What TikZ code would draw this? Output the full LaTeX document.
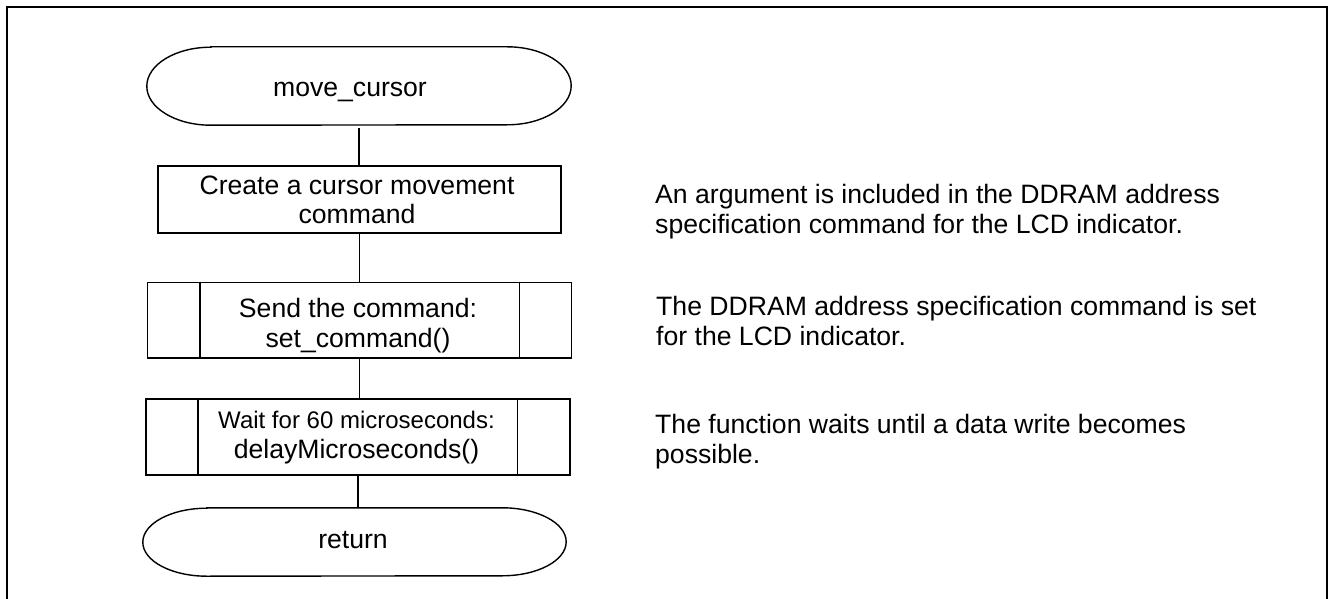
\documentclass[tikz,border=0pt]{standalone}
\usepackage{fontspec}
\setmainfont{Liberation Sans}
\newcommand{\twoln}[3]{\begin{tabular}[t]{@{}#1@{}}#2\\#3\end{tabular}}
\begin{document}
\begin{tikzpicture}[x=1pt,y=-1pt,
  txt/.style={font=\fontsize{26.6}{30}\selectfont, inner sep=0pt, anchor=base},
  note/.style={txt, anchor=base west},
  shapebox/.style={draw, line width=1.5pt, inner sep=0pt},
  termbox/.style={draw=none, inner sep=0pt},
  shapeline/.style={line width=1.4pt},
  conn/.style={line width=1.5pt},
  frame/.style={line width=2.3pt}]
\useasboundingbox (0,0) rectangle (1328,599);
\fill[white] (0,0) rectangle (1328,599);
\draw[frame] (7,600) -- (7,7) -- (1327,7) -- (1327,600);

% start terminator
\node[termbox, minimum width=424pt, minimum height=78pt] (start) at (359,86) {};
\draw[shapeline] ([xshift=64pt]start.north west) -- ([xshift=-64pt]start.north east)
  arc[start angle=90,end angle=-90,x radius=64pt,y radius=39pt]
  -- ([xshift=64pt]start.south west)
  arc[start angle=270,end angle=90,x radius=64pt,y radius=39pt] -- cycle;
\node[txt] (starttext) at (350,96.7) {move\_cursor};

% process box
\node[shapebox, minimum width=403pt, minimum height=67pt] (box1) at (359.5,199.7) {};
\node[txt] (box1text) at (357,194.3) {\fontsize{26.6}{29}\selectfont\twoln{c}{Create a cursor movement}{command}};

% predefined process 1
\node[shapebox, minimum width=424pt, minimum height=75.5pt] (box2) at (359.7,320.2) {};
\draw[shapeline] ([xshift=53pt]box2.north west) -- ([xshift=53pt]box2.south west);
\draw[shapeline] ([xshift=-53pt]box2.north east) -- ([xshift=-53pt]box2.south east);
\node[txt] (box2text) at (358,317.3) {\twoln{c}{Send the command:}{set\_command()}};

% predefined process 2
\node[shapebox, minimum width=424pt, minimum height=76pt] (box3) at (357.8,437) {};
\draw[shapeline] ([xshift=53pt]box3.north west) -- ([xshift=53pt]box3.south west);
\draw[shapeline] ([xshift=-53pt]box3.north east) -- ([xshift=-53pt]box3.south east);
\node[txt] (box3text) at (356.5,428.3) {\twoln{c}{{\fontsize{24}{30}\selectfont Wait for 60 microseconds:}}{delayMicroseconds()}};

% return terminator
\node[termbox, minimum width=423pt, minimum height=68pt] (ret) at (354.5,542) {};
\draw[shapeline] ([xshift=64pt]ret.north west) -- ([xshift=-64pt]ret.north east)
  arc[start angle=90,end angle=-90,x radius=64pt,y radius=34pt]
  -- ([xshift=64pt]ret.south west)
  arc[start angle=270,end angle=90,x radius=64pt,y radius=34pt] -- cycle;
\node[txt] (rettext) at (353,548.3) {return};

% connectors
\draw[conn] ([yshift=-3pt]start.south) -- (start.south |- box1.north);
\draw[conn] (box1.south) -- (box1.south |- box2.north);
\draw[conn] (box2.south) -- (box2.south |- box3.north);
\draw[conn] (box3.south) -- (box3.south |- ret.north);

% notes
\node[note] (note1) at (655,203.3) {\twoln{l}{An argument is included in the DDRAM address}{specification command for the LCD indicator.}};
\node[note] (note2) at (656,315) {\twoln{l}{The DDRAM address specification command is set}{for the LCD indicator.}};
\node[note] (note3) at (655,433.3) {\twoln{l}{The function waits until a data write becomes}{possible.}};
\end{tikzpicture}
\end{document}
